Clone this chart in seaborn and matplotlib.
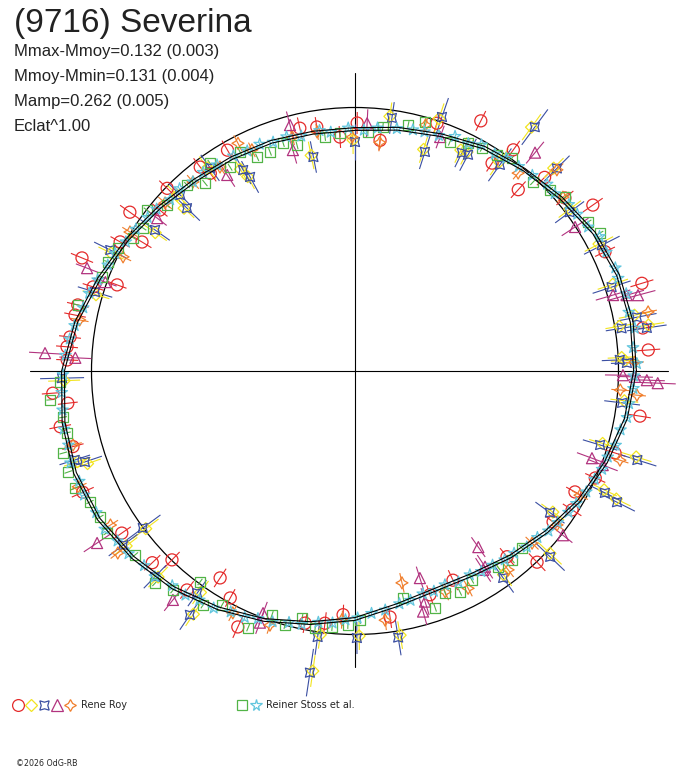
import numpy as np
import pandas as pd
import matplotlib
matplotlib.use("Agg")
import matplotlib.pyplot as plt
from matplotlib.collections import LineCollection
from matplotlib.lines import Line2D
from matplotlib.legend_handler import HandlerTuple
from matplotlib.patches import Circle
import seaborn as sns

# polar lightcurve: angle = rotation phase (deg), radius = brightness (mean circle = 263.5)
MEAN_RAD = 263.5

fit_ang = [0, 10, 20, 30, 40, 50, 60, 70, 80, 90, 100, 110, 120, 130, 140, 150, 160, 170,
           180, 190, 200, 210, 220, 230, 240, 250, 260, 270, 280, 290, 300, 310, 320, 330, 340, 350]
fit_rad = [280, 281, 280, 276, 269, 263, 258, 251, 246, 242, 242, 244, 246, 249, 255, 263, 272, 283,
           292, 296, 298, 296, 290, 283, 274, 265, 256, 248, 238, 233, 235, 242, 250, 259, 267, 275]

red_ang = [63.3, 48.0, 54.4, 56.6, 45.6, 34.9, 39.5, 25.5, 17.0, 8.5, 4.1, 351.0, 342.5, 336.0,
           331.2, 327.4, 322.7, 313.6, 309.3, 295.1, 278.1, 288.5, 225.9, 236.9, 241.2, 232.5,
           245.4, 267.2, 263.2, 258.8, 184.2, 186.4, 190.7, 195.0, 204.0, 214.8, 223.4, 127.2,
           135.8, 140.5, 144.8, 148.8, 151.2, 157.5, 160.1, 162.2, 166.6, 168.7, 173.2, 175.2,
           177.8, 120.0, 126.2, 102.8, 98.9, 93.7, 89.5, 83.8, 71.7]
red_rad = [280, 244, 272, 249, 271, 290, 272, 277, 300, 291, 294, 288.5, 272.6, 263,
           251, 257.7, 249, 264, 240, 231, 248.5, 236, 263, 247, 259, 276,
           281.5, 244, 254, 257, 303, 289, 300, 292, 298, 284, 279, 256,
           262, 253, 275.5, 249, 268, 295.5, 253, 275, 285, 285.5, 287, 289,
           288, 255, 245, 249, 247, 234.5, 248, 232, 261]
red_err = [11, 11, 11, 10, 11, 12, 11, 11, 12, 11, 12, 11, 11, 11,
           10, 11, 10, 12, 11, 11, 11, 10, 11, 11, 10, 11,
           12, 10, 11, 10, 11, 10, 11, 11, 12, 11, 11, 11,
           11, 10, 12, 11, 11, 12, 10, 11, 11, 11, 11, 11,
           11, 11, 10, 11, 10, 11, 11, 10, 11]

yel_ang = [90.5, 82.2, 71.6, 72.8, 62.9, 101.5, 118.9, 54.1, 55.4, 64.4, 45.6, 37.0, 27.5, 18.6,
           11.3, 8.9, 9.6, 2.9, 2.2, 353.7, 343.7, 343.0, 334.5, 333.9, 324.5, 316.9, 306.1,
           279.7, 270.9, 262.0, 262.5, 236.4, 235.1, 217.0, 217.4, 199.1, 198.1, 226.3, 181.9,
           136.4, 145.3, 154.2, 163.6, 135.3, 126.0, 119.6]
yel_rad = [231, 257, 266, 232, 246, 220, 222, 301, 254, 245, 284, 269, 275, 272,
           285, 297, 268, 267, 270, 271, 258, 294, 276, 291, 243, 267, 252,
           268, 265, 303, 266, 292, 270, 262, 288, 283, 292, 285, 291,
           236, 243, 271, 270, 250, 251, 232]
yel_err = [14, 14, 16, 14, 14, 14, 14, 16, 16, 14, 14, 14, 16, 16,
           16, 16, 14, 14, 14, 14, 14, 16, 14, 16, 14, 16, 14,
           14, 14, 16, 14, 14, 14, 16, 14, 14, 14, 14, 16,
           14, 14, 14, 14, 14, 14, 14]

blue_ang = [90.0, 81.7, 71.1, 72.3, 62.4, 101.0, 118.4, 53.6, 54.9, 63.9, 45.1, 36.5, 27.0, 18.1,
            10.8, 8.4, 9.1, 2.4, 1.7, 353.2, 343.2, 342.5, 334.0, 333.4, 324.0, 316.4, 305.6,
            279.2, 270.4, 261.5, 262.0, 235.9, 234.6, 216.5, 216.9, 198.6, 197.6, 225.8, 181.4,
            135.9, 144.8, 153.7, 163.1, 134.8, 125.5, 119.1]
blue_rad = [229, 255.7, 268.5, 230, 244, 218, 220.6, 303, 252, 243, 286, 267, 277, 270,
            287, 295, 270, 265, 272, 269, 256, 296, 278, 293, 241, 269.5, 254.5,
            270, 267, 305, 268.6, 294.5, 272.5, 264, 290, 285, 294, 287, 293,
            234, 244.7, 273, 271.7, 248, 249.5, 230]
blue_err = [18, 16, 20, 18, 18, 16, 18, 22, 20, 16, 18, 18, 20, 20,
            20, 20, 16, 18, 16, 18, 18, 20, 18, 20, 18, 20, 18,
            18, 16, 24, 18, 18, 16, 22, 18, 18, 16, 16, 22,
            18, 18, 18, 18, 16, 16, 16]

pur_ang = [104.8, 105.7, 87.2, 70.0, 50.5, 33.2, 16.4, 15.6, 15.0, 359.1, 358.8, 358.2, 357.7,
           339.8, 339.2, 321.7, 303.6, 305.0, 302.8, 287.4, 286.9, 285.8, 231.5, 249.2, 249.3,
           213.7, 176.7, 177.3, 159.0, 142.3, 160.4, 123.1]
pur_rad = [254.4, 229.5, 248, 249, 283, 263, 269, 282, 293, 268, 280, 292, 303,
           252.5, 265, 265, 235, 215, 236.6, 217, 241, 250, 292.5, 259, 269,
           310, 310.5, 280, 287, 250, 265, 234]
pur_err = [14, 14, 14, 12, 14, 16, 18, 18, 18, 18, 18, 18, 18,
           16, 16, 12, 14, 12, 14, 12, 14, 14, 14, 12, 12,
           16, 16, 16, 12, 12, 12, 14]

ora_ang = [115.0, 105.0, 99.0, 90.7, 83.8, 74.0, 50.5, 44.9, 39.9, 11.4, 1.8, 355.9, 355.1,
           341.4, 331.1, 322.7, 315.8, 307.6, 282.5, 276.9, 292.2, 297.5, 243.2, 251.5, 267.0,
           194.7, 212.2, 217.5, 202.7, 153.8, 148.3, 169.5, 130.6, 138.5, 123.5, 117.2]
ora_rad = [244, 242, 242, 234, 230, 256, 256.5, 285, 271, 299, 280, 266, 283,
           279.5, 257, 254, 247, 251, 217, 251, 238.6, 245, 271, 268, 249,
           291.5, 289, 299, 300, 258.5, 264.5, 280, 249, 253.6, 244.6, 256]
ora_err = [8, 8, 8, 9, 9, 8, 8, 9, 8, 9, 9, 9, 9,
           9, 9, 9, 9, 9, 10, 10, 9, 9, 9, 9, 9,
           9, 9, 9, 9, 9, 9, 9, 9, 9, 9, 9]

grn_ang = [117.7, 114.6, 111.2, 107.5, 104.4, 97.3, 93.6, 86.9, 83.5, 77.8, 74.3, 67.5, 63.6,
           60.3, 56.7, 53.6, 46.7, 42.9, 39.6, 32.6, 29.4, 313.3, 309.7, 306.1, 299.2, 295.4,
           292.1, 288.7, 282.0, 271.2, 268.4, 264.9, 261.2, 257.9, 254.6, 251.2, 247.4, 240.4,
           237.0, 233.7, 230.3, 226.7, 219.9, 213.1, 209.8, 206.3, 202.7, 199.4, 195.7, 192.1,
           189.0, 185.4, 182.1, 166.6, 159.6, 156.2, 152.6, 149.0, 146.0, 142.3, 138.6, 132.1,
           128.6, 124.9, 121.5]
grn_rad = [247, 235, 235, 239, 233, 236, 238.5, 239, 245.6, 251.6, 258.6, 248, 254.5,
           256.6, 258.5, 264.6, 259.6, 266, 272.7, 276.6, 281, 243, 245.7, 242.6, 239.5, 244.7,
           239.5, 250, 232, 249, 254, 257, 260, 252.6, 263.5, 257.7, 278, 269,
           279, 261.8, 284.8, 291.5, 286.8, 296, 293.8, 295.6, 303.5, 304, 303, 294.6,
           295.6, 306, 295, 284.8, 270, 270, 267, 258.8, 255.7, 263, 250.8, 250.6,
           240.5, 253.5, 239]
GRN_ERR = 4

cya_ang = [1.5, 4.8, 8.7, 12.1, 15.9, 19.4, 21.6, 25.3, 28.8, 31.7, 35.2, 37.9, 41.6, 44.2, 47.8,
           51.3, 54.6, 57.2, 60.8, 63.5, 66.9, 70.4, 73.8, 76.5, 80.2, 84.7, 87.9, 91.6, 95.8,
           98.4, 102.9, 106.3, 109.7, 112.8, 116.1, 119.5, 123.8, 127.4, 130.6, 133.9, 137.2,
           140.8, 143.5, 147.1, 150.6, 153.9, 156.8, 160.5, 163.7, 166.9, 170.8, 173.6, 176.9,
           180.7, 184.2, 187.6, 191.3, 194.5, 197.9, 201.8, 204.6, 208.7, 212.3, 215.6, 218.9,
           222.7, 225.8, 229.6, 232.9, 235.8, 239.2, 242.7, 245.9, 248.6, 251.8, 255.3, 258.1,
           261.7, 264.9, 267.8, 270.6, 273.9, 277.2, 280.8, 283.6, 286.9, 289.7, 292.8, 296.1,
           299.4, 302.2, 305.3, 308.4, 311.1, 314.3, 317.6, 320.4, 323.2, 326.5, 329.1, 332.4,
           335.7, 338.3, 341.2, 344.1, 347.5, 350.3, 353.2, 356.4, 359.0]
cya_rad = [282, 279, 283, 280, 282, 279, 280, 278, 279, 274, 272, 271, 267, 268, 264,
           262, 261, 258, 259, 254, 255, 250, 249, 248, 246, 244, 241, 243, 240,
           243, 241, 244, 243, 246, 245, 247, 248, 250, 249, 253, 252,
           256, 258, 261, 263, 267, 269, 273, 277, 279, 284, 287, 290,
           292, 294, 295, 297, 296, 299, 297, 298, 295, 296, 292, 291,
           287, 287, 282, 281, 277, 276, 271, 270, 266, 264, 260, 259,
           254, 253, 249, 247, 243, 241, 237, 236, 233, 234, 232, 235,
           234, 237, 238, 241, 242, 246, 247, 251, 253, 256, 258, 261,
           263, 266, 267, 271, 272, 276, 276, 279, 279]
CYA_ERR = 3

series = [
    # name, angles, radii, errors, colour, marker, size
    ("red", red_ang, red_rad, red_err, "#e42a2a", "o", 75),
    ("yellow", yel_ang, yel_rad, yel_err, "#f2e41e", "D", 37),
    ("blue", blue_ang, blue_rad, blue_err, "#3b4fa2", (4, 1, 45), 85),
    ("purple", pur_ang, pur_rad, pur_err, "#b2337f", "^", 63),
    ("orange", ora_ang, ora_rad, ora_err, "#f07e2c", (4, 1, 0), 75),
    ("green", grn_ang, grn_rad, [GRN_ERR] * len(grn_ang), "#52b447", "s", 52),
    ("cyan", cya_ang, cya_rad, [CYA_ERR] * len(cya_ang), "#62c6de", "*", 75),
]

sns.set_style("white")
plt.rcParams["font.family"] = ["Liberation Sans", "DejaVu Sans"]

fig = plt.figure(figsize=(6.88, 7.68), dpi=100)
ax = fig.add_axes([0, 0, 1, 1])
ax.set_xlim(-355, 333)
ax.set_ylim(-397, 371)
ax.axis("off")

# axes cross and mean circle
ax.plot([-325, 313], [0, 0], color="black", lw=0.8, zorder=1)
ax.plot([0, 0], [-296, 298], color="black", lw=0.8, zorder=1)
ax.add_patch(Circle((0, 0), MEAN_RAD, fill=False, ec="black", lw=0.9, zorder=1))

# radial error bars
rows = []
segs, seg_cols = [], []
for name, ang, rad, err, col, mk, sz in series:
    th = np.radians(ang)
    rad = np.asarray(rad, float)
    err = np.asarray(err, float)
    x, y = rad * np.cos(th), rad * np.sin(th)
    r0, r1 = rad - err, rad + err
    for t, a, b in zip(th, r0, r1):
        segs.append([(a * np.cos(t), a * np.sin(t)), (b * np.cos(t), b * np.sin(t))])
        seg_cols.append(col)
    rows.append(pd.DataFrame({"x": x, "y": y, "series": name}))
ax.add_collection(LineCollection(segs, colors=seg_cols, linewidths=0.8, zorder=2))

df = pd.concat(rows, ignore_index=True)
palette = {s[0]: s[4] for s in series}
markers = {s[0]: s[5] for s in series}
sizes = {s[0]: s[6] for s in series}
sns.scatterplot(data=df, x="x", y="y", hue="series", style="series", size="series",
                palette=palette, markers=markers, sizes=sizes, legend=False, ax=ax, zorder=3)
pts = ax.collections[-1]
pts.set_edgecolors(pts.get_facecolors())
pts.set_facecolors("none")
pts.set_linewidths(0.9)

# fourier fit, drawn as a thin double line
th = np.radians(fit_ang + [fit_ang[0] + 360])
fr = np.asarray(fit_rad + [fit_rad[0]], float)
for d in (-1.4, 1.4):
    ax.plot((fr + d) * np.cos(th), (fr + d) * np.sin(th), color="black", lw=0.8, zorder=4)

# header texts
fig.text(14 / 688, 1 - 32 / 768, "(9716) Severina", fontsize=24, color="#222222", va="baseline")
info = ["Mmax-Mmoy=0.132 (0.003)", "Mmoy-Mmin=0.131 (0.004)", "Mamp=0.262 (0.005)", "Eclat^1.00"]
for i, line in enumerate(info):
    fig.text(14 / 688, 1 - (56 + 25 * i) / 768, line, fontsize=12, color="#222222", va="baseline")

# legend: observers
def mk_handle(name):
    s = [t for t in series if t[0] == name][0]
    ms = {"yellow": 6.5, "blue": 9.5, "green": 7.0}.get(name, 8.5)
    return Line2D([], [], ls="none", marker=s[5], mec=s[4], mfc="none", ms=ms, mew=0.9)

leg1 = ax.legend([tuple(mk_handle(n) for n in ["red", "yellow", "blue", "purple", "orange"])],
                 ["Rene Roy"], handler_map={tuple: HandlerTuple(ndivide=None, pad=0)},
                 loc="center left", bbox_to_anchor=(11 / 688, 1 - 705 / 768),
                 bbox_transform=fig.transFigure, frameon=False, borderpad=0, borderaxespad=0,
                 handlelength=6.7, handletextpad=0.5, prop={"family": "DejaVu Sans", "size": 7})
ax.add_artist(leg1)
ax.legend([tuple(mk_handle(n) for n in ["green", "cyan"])],
          ["Reiner Stoss et al."], handler_map={tuple: HandlerTuple(ndivide=None, pad=0)},
          loc="center left", bbox_to_anchor=(235 / 688, 1 - 705 / 768),
          bbox_transform=fig.transFigure, frameon=False, borderpad=0, borderaxespad=0,
          handlelength=2.9, handletextpad=0.3, prop={"family": "DejaVu Sans", "size": 7})

fig.text(16 / 688, 1 - 766 / 768, "©2026 OdG-RB", fontsize=5.7, family="DejaVu Sans", va="baseline")

fig.savefig("out.png", dpi=100)
